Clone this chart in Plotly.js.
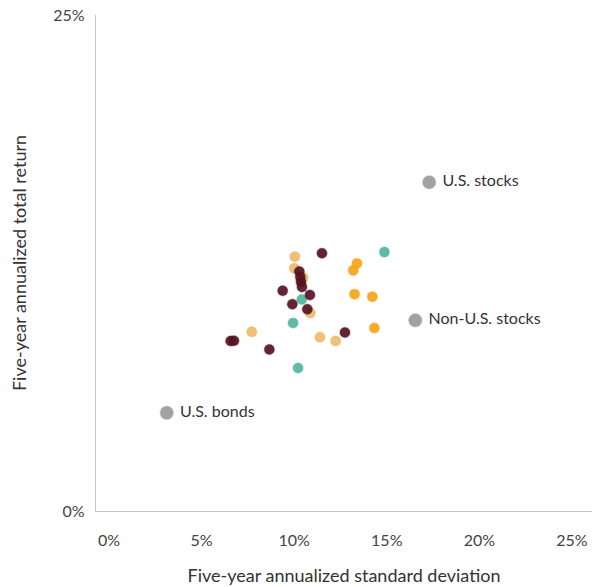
<!DOCTYPE html>
<html>
<head>
<meta charset="utf-8">
<script src="https://cdn.plot.ly/plotly-3.0.1.min.js"></script>
<style>html,body{margin:0;padding:0;background:#fff;}#chart{width:594px;height:587px;}</style>
</head>
<body>
<div id="chart"></div>
<script>
// Five-year annualized standard deviation (x, %) and total return (y, %)
const maroonX = [11.50, 10.28, 10.33, 10.37, 10.42, 9.38, 10.85, 9.90, 10.71, 12.74, 6.57, 6.75, 8.66];
const maroonY = [12.99, 12.07, 11.79, 11.54, 11.29, 11.10, 10.89, 10.42, 10.17, 9.00, 8.57, 8.58, 8.14];
const orangeX = [13.39, 13.19, 13.26, 14.22, 14.33];
const orangeY = [12.48, 12.13, 10.93, 10.80, 9.22];
const tanX = [10.04, 10.01, 10.49, 10.87, 7.71, 11.39, 12.24];
const tanY = [12.82, 12.23, 11.77, 9.98, 9.03, 8.76, 8.57];
const tealX = [14.87, 10.41, 9.94, 10.21];
const tealY = [13.05, 10.66, 9.48, 7.21];
const benchNames = ["U.S. stocks", "Non-U.S. stocks", "U.S. bonds"];
const benchX = [17.29, 16.54, 3.12];
const benchY = [16.57, 9.61, 4.95];
const xTicks = [0, 5, 10, 15, 20, 25];
const xTickText = ["0%", "5%", "10%", "15%", "20%", "25%"];
const yTicks = [0, 25];
const yTickText = ["0%", "25%"];

const FONT = "Lato, 'Noto Sans', sans-serif";

function dots(x, y, fill, rim) {
  return {
    type: "scatter", mode: "markers", x: x, y: y, hoverinfo: "skip",
    marker: { size: 10, color: fill, line: { width: 1.5, color: rim } }
  };
}

const traces = [
  dots(tanX, tanY, "rgba(236,176,88,0.8)", "rgba(236,176,88,0.35)"),
  dots(tealX, tealY, "rgba(76,180,158,0.9)", "rgba(76,180,158,0.35)"),
  dots(orangeX, orangeY, "rgba(247,166,30,0.95)", "rgba(247,166,30,0.4)"),
  dots(maroonX, maroonY, "rgba(86,18,34,0.92)", "rgba(86,18,34,0.35)"),
  {
    type: "scatter", mode: "markers+text", x: benchX, y: benchY,
    text: benchNames.map(s => " " + s), textposition: "middle right",
    textfont: { family: FONT, size: 16, color: "#333" }, hoverinfo: "skip",
    marker: { size: 13, color: "rgba(152,152,152,0.9)", line: { width: 1.5, color: "rgba(160,160,160,0.4)" } }
  }
];

const layout = {
  width: 594, height: 587,
  margin: { l: 96, r: 2, t: 15, b: 76 },
  paper_bgcolor: "#fff", plot_bgcolor: "#fff",
  showlegend: false,
  font: { family: FONT, color: "#444", size: 16 },
  xaxis: {
    range: [-0.70, 26.08], tickvals: xTicks, ticktext: xTickText,
    showgrid: false, zeroline: false, showline: true, linecolor: "#c4c4c4", linewidth: 1.2,
    ticks: "", ticklabelstandoff: 15, tickfont: { size: 16, color: "#444" },
    title: { text: "Five-year annualized standard deviation", font: { size: 18, color: "#333" }, standoff: 21 },
    fixedrange: true
  },
  yaxis: {
    range: [0, 25], tickvals: yTicks, ticktext: yTickText,
    showgrid: false, zeroline: false, showline: true, linecolor: "#c4c4c4", linewidth: 1.2,
    ticks: "", ticklabelstandoff: 7, tickfont: { size: 16, color: "#444" },
    title: { text: "Five-year annualized total return", font: { size: 18, color: "#333" }, standoff: 22 },
    fixedrange: true
  }
};

Plotly.newPlot("chart", traces, layout, { displayModeBar: false, staticPlot: true });
</script>
</body>
</html>
